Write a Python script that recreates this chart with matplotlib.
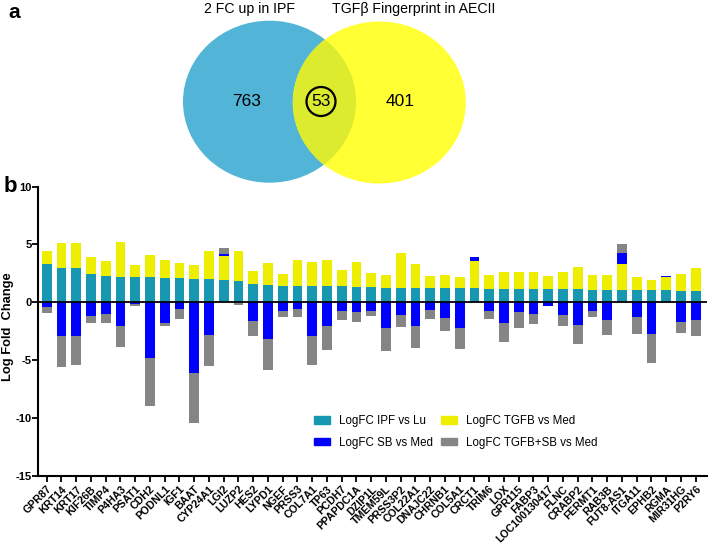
import numpy as np
import matplotlib
matplotlib.use("Agg")
import matplotlib.pyplot as plt
from matplotlib.patches import Ellipse, Circle, Patch

plt.rcParams["font.family"] = ["Liberation Sans", "DejaVu Sans"]

# ---- data ----
genes = ["GPR87", "KRT14", "KRT17", "KIF26B", "TIMP4", "P4HA3", "PSAT1", "CDH2",
         "PODNL1", "IGF1", "BAAT", "CYP24A1", "LGI2", "LUZP2", "HES2", "LYPD1",
         "NGEF", "PRSS3", "COL7A1", "TP63", "PCDH7", "PPAPDC1A", "DZIP1L",
         "TMEM59L", "PRSS3P2", "COL22A1", "DNAJC22", "CHRNB1", "COL5A1", "CRCT1",
         "TRIM6", "LOX", "GPR115", "FABP3", "LOC100130417", "FLNC", "CRABP2",
         "FERMT1", "RAB3B", "FUT8-AS1", "ITGA11", "EPHB2", "RGMA", "MIR31HG", "P2RY6"]

ipf_vs_lu = [3.27, 3.00, 2.95, 2.43, 2.31, 2.23, 2.17, 2.17, 2.14, 2.08, 2.02, 2.00,
             1.90, 1.85, 1.62, 1.53, 1.42, 1.42, 1.42, 1.39, 1.39, 1.36, 1.33, 1.27,
             1.27, 1.24, 1.24, 1.21, 1.21, 1.21, 1.16, 1.16, 1.13, 1.13, 1.13, 1.13,
             1.13, 1.10, 1.10, 1.10, 1.04, 1.04, 1.04, 1.01, 0.98]
tgfb_vs_med = [1.21, 2.14, 2.14, 1.47, 1.30, 2.97, 1.04, 1.96, 1.50, 1.30, 1.22, 2.48,
               2.13, 2.63, 1.07, 1.91, 1.07, 2.22, 2.05, 2.31, 1.38, 2.11, 1.24, 1.13,
               2.98, 2.11, 1.07, 1.16, 0.96, 2.40, 1.24, 1.50, 1.53, 1.53, 1.12, 1.53,
               1.93, 1.24, 1.27, 2.19, 1.13, 0.93, 1.16, 1.42, 2.00]
sb_vs_med = [-0.43, -2.95, -2.89, -1.16, -0.98, -2.08, -0.17, -4.86, -1.79, -0.58,
             -6.15, -2.86, 0.19, 0.0, -1.65, -3.15, -0.78, -0.58, -2.95, -2.08, -0.78,
             -0.87, -0.78, -2.25, -1.13, -2.08, -0.69, -1.36, -2.20, 0.29, -0.72,
             -1.82, -0.84, -0.98, -0.29, -1.07, -1.97, -0.72, -1.50, 0.98, -1.30,
             -2.72, 0.06, -1.71, -1.50]
tgfbsb_vs_med = [-0.49, -2.62, -2.51, -0.63, -0.81, -1.82, -0.18, -4.11, -0.23, -0.87,
                 -4.25, -2.64, 0.44, -0.20, -1.30, -2.71, -0.52, -0.72, -2.51, -2.02,
                 -0.72, -0.86, -0.38, -2.00, -0.98, -1.85, -0.78, -1.15, -1.85, 0.0,
                 -0.70, -1.65, -1.41, -0.87, 0.0, -0.98, -1.64, -0.55, -1.36, 0.81,
                 -1.42, -2.54, 0.03, -0.92, -1.45]

series_names = ["LogFC IPF vs Lu", "LogFC TGFB vs Med", "LogFC SB vs Med", "LogFC TGFB+SB vs Med"]
colors = ["#1797B0", "#EEEE00", "#0000FF", "#858585"]

venn_left, venn_both, venn_right = 763, 53, 401
venn_titles = ["2 FC up in IPF", "TGF\u03b2 Fingerprint in AECII"]

W, H = 709, 544
fig = plt.figure(figsize=(W / 100, H / 100), dpi=100)

# ---- panel a: venn, drawn in pixel coordinates ----
ov = fig.add_axes([0, 0, 1, 1])
ov.set_xlim(0, W)
ov.set_ylim(H, 0)
ov.axis("off")

e1 = Ellipse((269.5, 101.7), 173, 162, color="#52B4D6", lw=0)
e2 = Ellipse((379.3, 102.5), 173, 162, color="#FFFF33", lw=0)
ov.add_patch(e1)
ov.add_patch(e2)
e3 = Ellipse((269.5, 101.7), 173, 162, color="#DCEB2D", lw=0)
ov.add_patch(e3)
e3.set_clip_path(e2)

ov.text(250, 9, venn_titles[0], ha="center", va="center", fontsize=10.2)
ov.text(414, 9, venn_titles[1], ha="center", va="center", fontsize=10.2)
ov.text(246.5, 101.5, str(venn_left), ha="center", va="center", fontsize=12.5)
ov.text(321, 101.5, str(venn_both), ha="center", va="center", fontsize=12.5)
ov.text(400, 102, str(venn_right), ha="center", va="center", fontsize=12.5)
ov.add_patch(Circle((321, 101.5), 14.5, fill=False, ec="black", lw=1.6))

ov.text(8, 13, "a", ha="left", va="center", fontsize=15, fontweight="bold")
ov.text(4, 187, "b", ha="left", va="center", fontsize=16, fontweight="bold")
ov.text(8, 327, "Log Fold  Change", rotation=90, ha="center", va="center",
        fontsize=9.3, fontweight="bold")

# ---- panel b: stacked bars ----
ax = fig.add_axes([37.7 / W, 1 - 475.7 / H, (706.7 - 37.7) / W, (475.7 - 186.7) / H])
ax.patch.set_alpha(0)
x = np.arange(len(genes))
pos = np.zeros(len(genes))
neg = np.zeros(len(genes))
for vals, c in zip([ipf_vs_lu, tgfb_vs_med, sb_vs_med, tgfbsb_vs_med], colors):
    v = np.array(vals)
    base = np.where(v >= 0, pos, neg)
    ax.bar(x, v, width=0.66, bottom=base, color=c, lw=0)
    pos = pos + np.clip(v, 0, None)
    neg = neg + np.clip(v, None, 0)

ax.axhline(0, color="black", lw=1.3)
ax.set_xlim(-0.61, 44.75)
ax.set_ylim(-15, 10)
ax.set_yticks([-15, -10, -5, 0, 5, 10])
ax.set_yticklabels(["-15", "-10", "-5", "0", "5", "10"], fontsize=8, fontweight="bold")
ax.set_xticks(x)
ax.set_xticklabels(genes, rotation=45, ha="right", rotation_mode="anchor",
                   fontsize=7.7, fontweight="bold")
ax.tick_params(axis="both", direction="out", length=4, width=1.3)
ax.tick_params(axis="y", pad=0.5)
ax.tick_params(axis="x", pad=2)
for s in ["top", "right"]:
    ax.spines[s].set_visible(False)
for s in ["left", "bottom"]:
    ax.spines[s].set_linewidth(1.5)

handles = [Patch(color=colors[0]), Patch(color=colors[2]),
           Patch(color=colors[1]), Patch(color=colors[3])]
labels = [series_names[0], series_names[2], series_names[1], series_names[3]]
fig.legend(handles, labels, ncol=2, loc="upper left",
           bbox_to_anchor=(314 / W, 1 - 415 / H), frameon=False, fontsize=8.3,
           handlelength=1.35, handleheight=0.6, handletextpad=0.8,
           columnspacing=0.75, labelspacing=0.85, borderpad=0, borderaxespad=0)

fig.savefig("out.png", dpi=100)
